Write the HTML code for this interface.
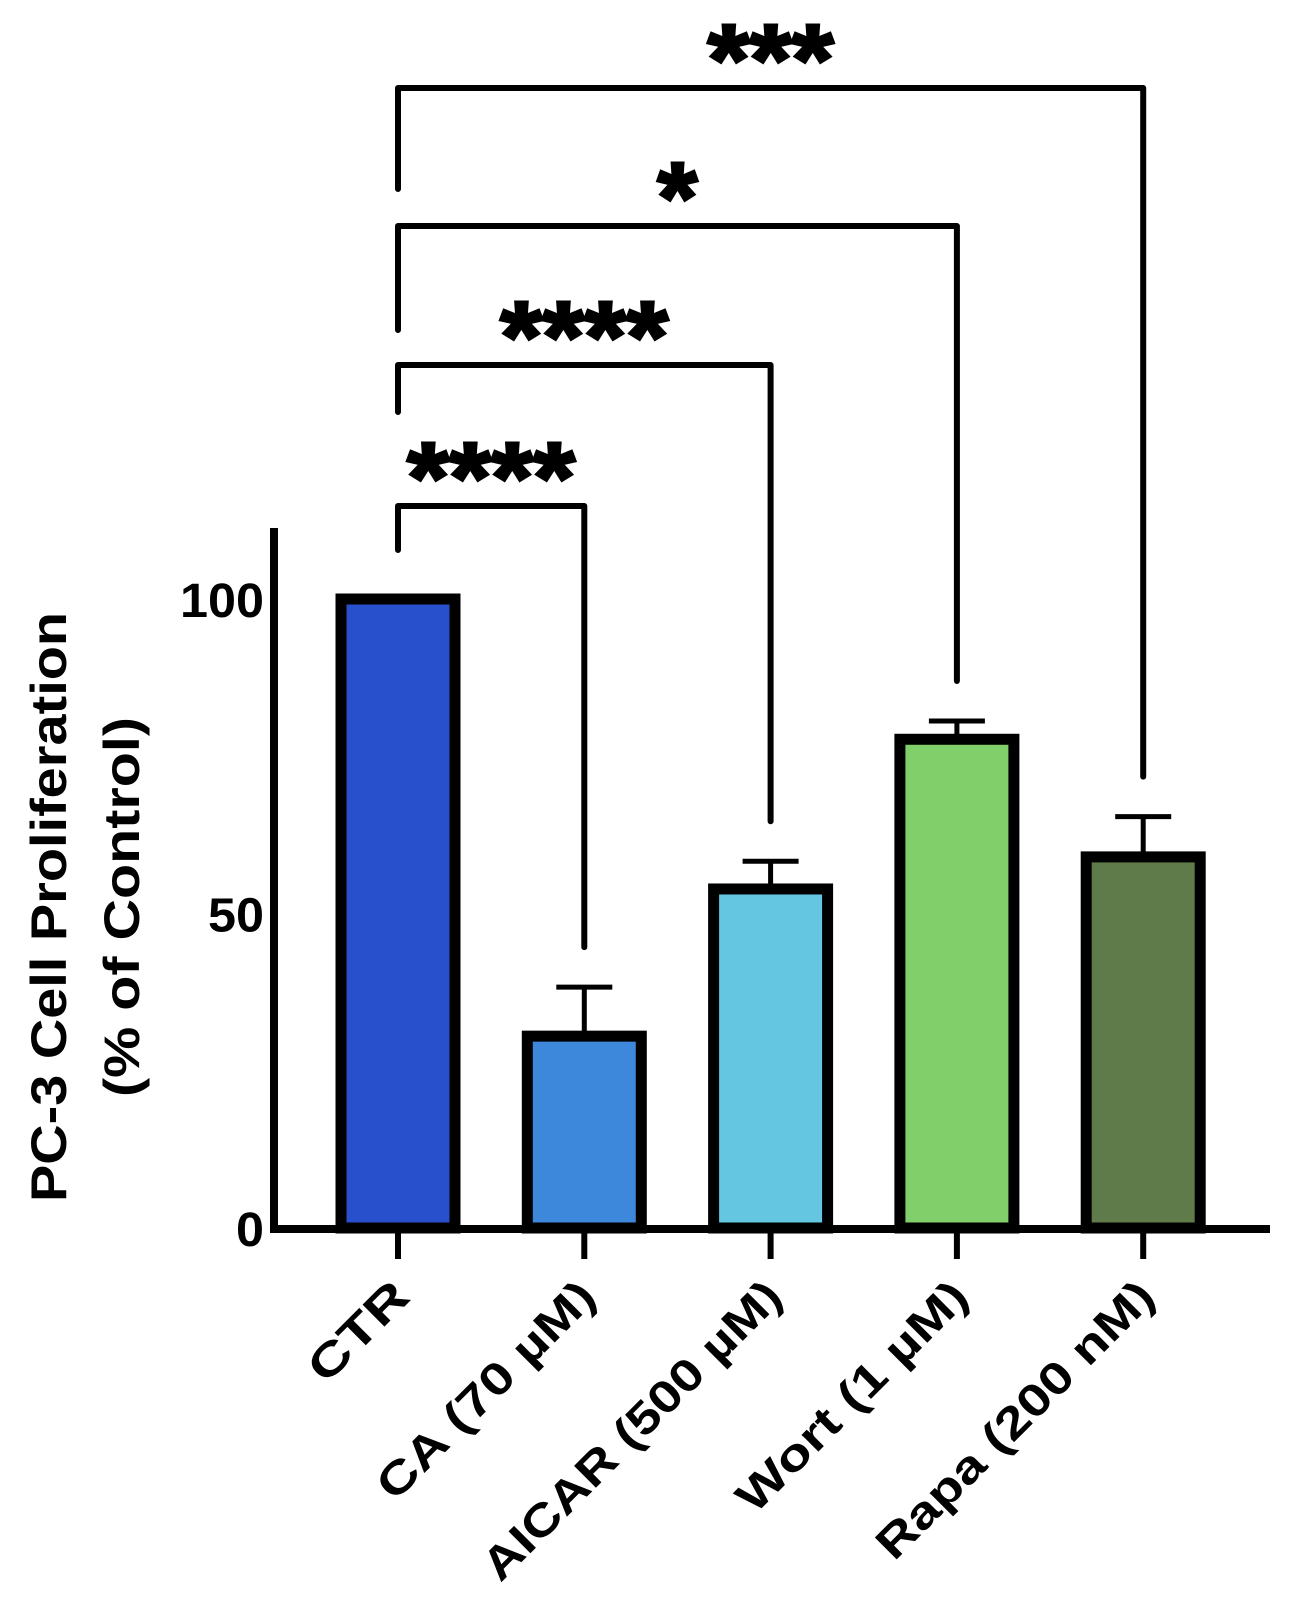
<!DOCTYPE html>
<html><head><meta charset="utf-8"><style>html,body{margin:0;padding:0;background:#fff}svg{display:block}</style></head>
<body>
<svg id="chart" width="1295" height="1612" viewBox="0 0 1295 1612" xmlns="http://www.w3.org/2000/svg" font-family="Liberation Sans, Arial, sans-serif" font-weight="bold"></svg>
<script>
const categories = ["CTR","CA (70 µM)","AICAR (500 µM)","Wort (1 µM)","Rapa (200 nM)"];
const values = [100, 30.5, 53.9, 77.7, 59];
const errors = [0, 7.8, 4.4, 2.9, 6.4];
const colors = ["#2850cc","#3d88db","#64c6e0","#80cf6a","#5f7b4a"];
const yTicks = [0, 50, 100];
const sigLabels = ["****","****","*","***"];
const sigTargets = [1,2,3,4];

const svg = document.getElementById('chart');
const NS = 'http://www.w3.org/2000/svg';
const y0 = 1228, yScale = 6.29;
const y = v => y0 - v * yScale;
const x = i => 398 + i * 186.3;
const barW = 114;
const labelLen = [122, 288, 402, 306, 372];
const legLen = [44, 47, 104, 101];
const starLen = [168, 168, 40, 126];

function mk(tag, attrs, parent) {
  const el = document.createElementNS(NS, tag);
  for (const k in attrs) el.setAttribute(k, attrs[k]);
  (parent || svg).appendChild(el);
  return el;
}

// y-axis title
const t = mk('text', {transform:'translate(66,907) rotate(-90)', 'text-anchor':'middle', 'font-size':'50'});


const ts1 = mk('tspan', {x:0, dy:0, textLength:590, lengthAdjust:'spacingAndGlyphs'}, t); ts1.textContent = 'PC-3 Cell Proliferation';
const ts2 = mk('tspan', {x:0, dy:73, textLength:380, lengthAdjust:'spacingAndGlyphs'}, t); ts2.textContent = '(% of  Control)';

// y tick labels
yTicks.forEach(v => {
  const s = String(v);
  const el = mk('text', {x:264, y:y(v)+18, 'text-anchor':'end', 'font-size':'48', textLength: 28*s.length, lengthAdjust:'spacingAndGlyphs'});
  
  
  el.textContent = s;
});

// bars
values.forEach((v, i) => {
  const r = mk('rect', {x:x(i)-barW/2, y:y(v), width:barW, height:y0-y(v), fill:colors[i], stroke:'#000', 'stroke-width':11});
  
  
  if (errors[i] > 0) {
    const top = y(v + errors[i]);
    const e = mk('path', {d:`M${x(i)},${y(v)} V${top} M${x(i)-28},${top} H${x(i)+28}`, stroke:'#000', 'stroke-width':5, fill:'none'});
    
    
  }
});

// axes
const ya = mk('line', {x1:274, y1:528, x2:274, y2:1232, stroke:'#000', 'stroke-width':8});


const xa = mk('line', {x1:270, y1:1229, x2:1270, y2:1229, stroke:'#000', 'stroke-width':8});



categories.forEach((c, i) => {
  const tk = mk('line', {x1:x(i), y1:1229, x2:x(i), y2:1259, stroke:'#000', 'stroke-width':6});
  
  
  const lb = mk('text', {transform:`translate(${x(i)+14},${1299}) rotate(-45)`, 'text-anchor':'end', 'font-size':'45', textLength:labelLen[i], lengthAdjust:'spacingAndGlyphs'});
  
  
  lb.textContent = c;
});

// significance brackets
const bracketTops = [506, 365, 226, 88];
sigTargets.forEach((j, k) => {
  const top = bracketTops[k];
  const leftBottom = top + legLen[k];
  const rightBottom = y(values[j] + errors[j]) - 40;
  const p = mk('path', {d:`M${x(0)},${leftBottom} V${top} H${x(j)} V${rightBottom}`, stroke:'#000', 'stroke-width':6, fill:'none', 'stroke-linejoin':'round', 'stroke-linecap':'round'});
  
  
  const s = mk('text', {x:(x(0)+x(j))/2, y:top+6, 'text-anchor':'middle', 'font-size':'100', textLength:starLen[k], lengthAdjust:'spacingAndGlyphs', 'stroke':'#000', 'stroke-width':3});
  
  
  s.textContent = sigLabels[k];
});
</script>
</body></html>
